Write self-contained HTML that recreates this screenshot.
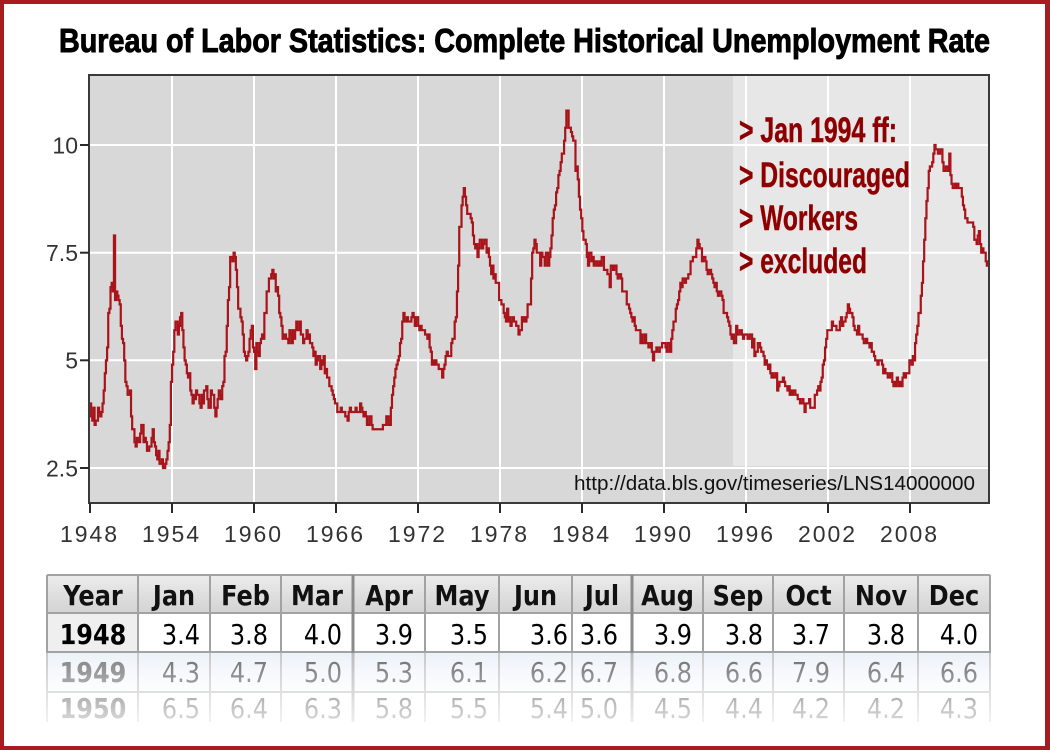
<!DOCTYPE html>
<html><head><meta charset="utf-8"><style>html,body{margin:0;padding:0;background:#fff}svg{display:block}</style></head>
<body>
<svg width="1050" height="750" viewBox="0 0 1050 750" xmlns="http://www.w3.org/2000/svg">
<defs>
<linearGradient id="hdr" x1="0" y1="0" x2="0" y2="1"><stop offset="0" stop-color="#ececec"/><stop offset="1" stop-color="#d3d3d3"/></linearGradient>
<linearGradient id="blu" x1="0" y1="0" x2="0" y2="1"><stop offset="0" stop-color="#dde8f4"/><stop offset="1" stop-color="#f7fafd"/></linearGradient>
<linearGradient id="fade" x1="0" y1="0" x2="0" y2="1"><stop offset="0" stop-color="#fff" stop-opacity="0.42"/><stop offset="1" stop-color="#fff" stop-opacity="0.86"/></linearGradient>
</defs>
<rect width="1050" height="750" fill="#fff"/>

<!-- Title -->
<text x="59" y="52" font-family="Liberation Sans, Arial, sans-serif" font-weight="bold" font-size="33" fill="#000" stroke="#000" stroke-width="0.9" textLength="931" lengthAdjust="spacingAndGlyphs">Bureau of Labor Statistics: Complete Historical Unemployment Rate</text>

<!-- Plot background -->
<rect x="89" y="75" width="900" height="428" fill="#d8d8d8"/>
<rect x="733" y="75" width="256" height="391" fill="#e7e7e7"/>

<!-- gridlines -->
<g stroke="#fff" stroke-width="2">
<line x1="172" y1="75" x2="172" y2="503"/>
<line x1="254" y1="75" x2="254" y2="503"/>
<line x1="336" y1="75" x2="336" y2="503"/>
<line x1="418" y1="75" x2="418" y2="503"/>
<line x1="500" y1="75" x2="500" y2="503"/>
<line x1="582" y1="75" x2="582" y2="503"/>
<line x1="664" y1="75" x2="664" y2="503"/>
<line x1="746" y1="75" x2="746" y2="503"/>
<line x1="828" y1="75" x2="828" y2="503"/>
<line x1="910" y1="75" x2="910" y2="503"/>
<line x1="89" y1="145" x2="989" y2="145"/>
<line x1="89" y1="252.7" x2="989" y2="252.7"/>
<line x1="89" y1="360.3" x2="989" y2="360.3"/>
<line x1="89" y1="468" x2="989" y2="468"/>
</g>

<!-- annotation -->
<g font-family="Liberation Sans, Arial, sans-serif" font-weight="bold" font-size="35" fill="#8e0000" stroke="#8e0000" stroke-width="0.5">
<text x="739" y="142" textLength="158" lengthAdjust="spacingAndGlyphs">&gt; Jan 1994 ff:</text>
<text x="739" y="187" textLength="171" lengthAdjust="spacingAndGlyphs">&gt; Discouraged</text>
<text x="739" y="230" textLength="119" lengthAdjust="spacingAndGlyphs">&gt; Workers</text>
<text x="739" y="273" textLength="128" lengthAdjust="spacingAndGlyphs">&gt; excluded</text>
</g>

<!-- URL -->
<text x="574" y="490" font-family="Liberation Sans, Arial, sans-serif" font-size="20" fill="#111" textLength="401" lengthAdjust="spacingAndGlyphs">http://data.bls.gov/timeseries/LNS14000000</text>

<!-- data line -->
<g transform="translate(90,575.7) scale(1.1396,-43.07)">
<path fill="none" stroke="#a8141a" stroke-width="2.2" vector-effect="non-scaling-stroke" stroke-linejoin="miter" d="M0 4.0h1V3.7h1V3.6h1V3.9h1V3.5h1V3.6h1V3.6h1V3.9h1V3.8h1V3.7h1V3.8h1V4.0
h1V4.3h1V4.7h1V5.0h1V5.3h1V6.1h1V6.2h1V6.7h1V6.8h1V6.6h1V7.9h1V6.4h1V6.6
h1V6.5h1V6.4h1V6.3h1V5.8h1V5.5h1V5.4h1V5.0h1V4.5h1V4.4h1V4.2h1V4.2h1V4.3
h1V3.7h1V3.4h1V3.4h1V3.1h1V3.0h1V3.2h1V3.1h1V3.1h1V3.3h1V3.5h1V3.5h1V3.1
h1V3.2h1V3.1h1V2.9h1V2.9h1V3.0h1V3.0h1V3.2h1V3.4h1V3.1h1V3.0h1V2.8h1V2.7
h1V2.9h1V2.6h1V2.6h1V2.7h1V2.5h1V2.5h1V2.6h1V2.7h1V2.9h1V3.1h1V3.5h1V4.5
h1V4.9h1V5.2h1V5.7h1V5.9h1V5.9h1V5.6h1V5.8h1V6.0h1V6.1h1V5.7h1V5.3h1V5.0
h1V4.9h1V4.7h1V4.6h1V4.7h1V4.3h1V4.2h1V4.0h1V4.2h1V4.1h1V4.3h1V4.2h1V4.2
h1V4.0h1V3.9h1V4.2h1V4.0h1V4.3h1V4.3h1V4.4h1V4.1h1V3.9h1V3.9h1V4.3h1V4.2
h1V4.2h1V3.9h1V3.7h1V3.9h1V4.1h1V4.3h1V4.2h1V4.1h1V4.4h1V4.5h1V5.1h1V5.2
h1V5.8h1V6.4h1V6.7h1V7.4h1V7.4h1V7.3h1V7.5h1V7.4h1V7.1h1V6.7h1V6.2h1V6.2
h1V6.0h1V5.9h1V5.6h1V5.2h1V5.1h1V5.0h1V5.1h1V5.2h1V5.5h1V5.7h1V5.8h1V5.3
h1V5.2h1V4.8h1V5.4h1V5.2h1V5.1h1V5.4h1V5.5h1V5.6h1V5.5h1V6.1h1V6.1h1V6.6
h1V6.6h1V6.9h1V6.9h1V7.0h1V7.1h1V6.9h1V7.0h1V6.6h1V6.7h1V6.5h1V6.1h1V6.0
h1V5.8h1V5.5h1V5.6h1V5.6h1V5.5h1V5.5h1V5.4h1V5.7h1V5.6h1V5.4h1V5.7h1V5.5
h1V5.7h1V5.9h1V5.7h1V5.7h1V5.9h1V5.6h1V5.6h1V5.4h1V5.5h1V5.5h1V5.7h1V5.5
h1V5.6h1V5.4h1V5.4h1V5.3h1V5.1h1V5.2h1V4.9h1V5.0h1V5.1h1V5.1h1V4.8h1V5.0
h1V4.9h1V5.1h1V4.7h1V4.8h1V4.6h1V4.6h1V4.4h1V4.4h1V4.3h1V4.2h1V4.1h1V4.0
h1V4.0h1V3.8h1V3.8h1V3.8h1V3.9h1V3.8h1V3.8h1V3.8h1V3.7h1V3.7h1V3.6h1V3.8
h1V3.9h1V3.8h1V3.8h1V3.8h1V3.8h1V3.9h1V3.8h1V3.8h1V3.8h1V4.0h1V3.9h1V3.8
h1V3.7h1V3.8h1V3.7h1V3.5h1V3.5h1V3.7h1V3.7h1V3.5h1V3.4h1V3.4h1V3.4h1V3.4
h1V3.4h1V3.4h1V3.4h1V3.4h1V3.4h1V3.5h1V3.5h1V3.5h1V3.7h1V3.7h1V3.5h1V3.5
h1V3.9h1V4.2h1V4.4h1V4.6h1V4.8h1V4.9h1V5.0h1V5.1h1V5.4h1V5.5h1V5.9h1V6.1
h1V5.9h1V5.9h1V6.0h1V5.9h1V5.9h1V5.9h1V6.0h1V6.1h1V6.0h1V5.8h1V6.0h1V6.0
h1V5.8h1V5.7h1V5.8h1V5.7h1V5.7h1V5.7h1V5.6h1V5.6h1V5.5h1V5.6h1V5.3h1V5.2
h1V4.9h1V5.0h1V4.9h1V5.0h1V4.9h1V4.9h1V4.8h1V4.8h1V4.8h1V4.6h1V4.8h1V4.9
h1V5.1h1V5.2h1V5.1h1V5.1h1V5.1h1V5.4h1V5.5h1V5.5h1V5.9h1V6.0h1V6.6h1V7.2
h1V8.1h1V8.1h1V8.6h1V8.8h1V9.0h1V8.8h1V8.6h1V8.4h1V8.4h1V8.4h1V8.3h1V8.2
h1V7.9h1V7.7h1V7.6h1V7.7h1V7.4h1V7.6h1V7.8h1V7.8h1V7.6h1V7.7h1V7.8h1V7.8
h1V7.5h1V7.6h1V7.4h1V7.2h1V7.0h1V7.2h1V6.9h1V7.0h1V6.8h1V6.8h1V6.8h1V6.4
h1V6.4h1V6.3h1V6.3h1V6.1h1V6.0h1V5.9h1V6.2h1V5.9h1V6.0h1V5.8h1V5.9h1V6.0
h1V5.9h1V5.9h1V5.8h1V5.8h1V5.6h1V5.7h1V5.7h1V6.0h1V5.9h1V6.0h1V5.9h1V6.0
h1V6.3h1V6.3h1V6.3h1V6.9h1V7.5h1V7.6h1V7.8h1V7.7h1V7.5h1V7.5h1V7.5h1V7.2
h1V7.5h1V7.4h1V7.4h1V7.2h1V7.5h1V7.5h1V7.2h1V7.4h1V7.6h1V7.9h1V8.3h1V8.5
h1V8.6h1V8.9h1V9.0h1V9.3h1V9.4h1V9.6h1V9.8h1V9.8h1V10.1h1V10.4h1V10.8h1V10.8
h1V10.4h1V10.4h1V10.3h1V10.2h1V10.1h1V10.1h1V9.4h1V9.5h1V9.2h1V8.8h1V8.5h1V8.3
h1V8.0h1V7.8h1V7.8h1V7.7h1V7.4h1V7.2h1V7.5h1V7.5h1V7.3h1V7.4h1V7.2h1V7.3
h1V7.3h1V7.2h1V7.2h1V7.3h1V7.2h1V7.4h1V7.4h1V7.1h1V7.1h1V7.1h1V7.0h1V7.0
h1V6.7h1V7.2h1V7.2h1V7.1h1V7.2h1V7.2h1V7.0h1V6.9h1V7.0h1V7.0h1V6.9h1V6.6
h1V6.6h1V6.6h1V6.6h1V6.3h1V6.3h1V6.2h1V6.1h1V6.0h1V5.9h1V6.0h1V5.8h1V5.7
h1V5.7h1V5.7h1V5.7h1V5.4h1V5.6h1V5.4h1V5.4h1V5.6h1V5.4h1V5.4h1V5.3h1V5.3
h1V5.4h1V5.2h1V5.0h1V5.2h1V5.2h1V5.3h1V5.2h1V5.2h1V5.3h1V5.3h1V5.4h1V5.4
h1V5.4h1V5.3h1V5.2h1V5.4h1V5.4h1V5.2h1V5.5h1V5.7h1V5.9h1V5.9h1V6.2h1V6.3
h1V6.4h1V6.6h1V6.8h1V6.7h1V6.9h1V6.9h1V6.8h1V6.9h1V6.9h1V7.0h1V7.0h1V7.3
h1V7.3h1V7.4h1V7.4h1V7.4h1V7.6h1V7.8h1V7.7h1V7.6h1V7.6h1V7.3h1V7.4h1V7.4
h1V7.3h1V7.1h1V7.0h1V7.1h1V7.1h1V7.0h1V6.9h1V6.8h1V6.7h1V6.8h1V6.6h1V6.5
h1V6.6h1V6.6h1V6.5h1V6.4h1V6.1h1V6.1h1V6.1h1V6.0h1V5.9h1V5.8h1V5.6h1V5.5
h1V5.6h1V5.4h1V5.4h1V5.8h1V5.6h1V5.6h1V5.7h1V5.7h1V5.6h1V5.5h1V5.6h1V5.6
h1V5.6h1V5.5h1V5.5h1V5.6h1V5.6h1V5.3h1V5.5h1V5.1h1V5.2h1V5.2h1V5.4h1V5.4
h1V5.3h1V5.2h1V5.2h1V5.1h1V4.9h1V5.0h1V4.9h1V4.8h1V4.9h1V4.7h1V4.6h1V4.7
h1V4.6h1V4.6h1V4.7h1V4.3h1V4.4h1V4.5h1V4.5h1V4.5h1V4.6h1V4.5h1V4.4h1V4.4
h1V4.3h1V4.4h1V4.2h1V4.3h1V4.2h1V4.3h1V4.3h1V4.2h1V4.2h1V4.1h1V4.1h1V4.0
h1V4.0h1V4.1h1V4.0h1V3.8h1V4.0h1V4.0h1V4.0h1V4.1h1V3.9h1V3.9h1V3.9h1V3.9
h1V4.2h1V4.2h1V4.3h1V4.4h1V4.3h1V4.5h1V4.6h1V4.9h1V5.0h1V5.3h1V5.5h1V5.7
h1V5.7h1V5.7h1V5.7h1V5.9h1V5.8h1V5.8h1V5.8h1V5.7h1V5.7h1V5.7h1V5.9h1V6.0
h1V5.8h1V5.9h1V5.9h1V6.0h1V6.1h1V6.3h1V6.2h1V6.1h1V6.1h1V6.0h1V5.8h1V5.7
h1V5.7h1V5.6h1V5.8h1V5.6h1V5.6h1V5.6h1V5.5h1V5.4h1V5.4h1V5.5h1V5.4h1V5.4
h1V5.3h1V5.4h1V5.2h1V5.2h1V5.1h1V5.0h1V5.0h1V4.9h1V5.0h1V5.0h1V5.0h1V4.9
h1V4.7h1V4.8h1V4.7h1V4.7h1V4.6h1V4.6h1V4.7h1V4.7h1V4.5h1V4.4h1V4.5h1V4.4
h1V4.6h1V4.5h1V4.4h1V4.5h1V4.4h1V4.6h1V4.7h1V4.6h1V4.7h1V4.7h1V4.7h1V5.0
h1V5.0h1V4.9h1V5.1h1V5.0h1V5.4h1V5.6h1V5.8h1V6.1h1V6.1h1V6.5h1V6.8h1V7.3
h1V7.8h1V8.3h1V8.7h1V9.0h1V9.4h1V9.5h1V9.5h1V9.6h1V9.8h1V10.0h1V9.9h1V9.9
h1V9.8h1V9.8h1V9.9h1V9.9h1V9.6h1V9.4h1V9.4h1V9.5h1V9.5h1V9.4h1V9.8h1V9.3
h1V9.1h1V9.0h1V9.0h1V9.1h1V9.0h1V9.1h1V9.0h1V9.0h1V9.0h1V8.8h1V8.6h1V8.5
h1V8.3h1V8.3h1V8.2h1V8.2h1V8.2h1V8.2h1V8.2h1V8.1h1V7.8h1V7.8h1V7.7h1V7.9
h1V8.0h1V7.7h1V7.5h1V7.6h1V7.5h1V7.5h1V7.3h1V7.2h1V7.2"/>
</g>

<!-- frame -->
<rect x="89" y="75" width="900" height="428" fill="none" stroke="#3a3a3a" stroke-width="2"/>

<!-- ticks -->
<g stroke="#2a2a2a" stroke-width="2">
<line x1="90" y1="503" x2="90" y2="513"/>
<line x1="172" y1="503" x2="172" y2="513"/>
<line x1="254" y1="503" x2="254" y2="513"/>
<line x1="336" y1="503" x2="336" y2="513"/>
<line x1="418" y1="503" x2="418" y2="513"/>
<line x1="500" y1="503" x2="500" y2="513"/>
<line x1="582" y1="503" x2="582" y2="513"/>
<line x1="664" y1="503" x2="664" y2="513"/>
<line x1="746" y1="503" x2="746" y2="513"/>
<line x1="828" y1="503" x2="828" y2="513"/>
<line x1="910" y1="503" x2="910" y2="513"/>
<line x1="80" y1="145" x2="89" y2="145"/>
<line x1="80" y1="252.7" x2="89" y2="252.7"/>
<line x1="80" y1="360.3" x2="89" y2="360.3"/>
<line x1="80" y1="468" x2="89" y2="468"/>
</g>

<!-- axis labels -->
<g font-family="Liberation Sans, Arial, sans-serif" font-size="23" fill="#333" text-anchor="middle">
<text x="88.5" y="542" textLength="57" lengthAdjust="spacing">1948</text>
<text x="170.5" y="542" textLength="57" lengthAdjust="spacing">1954</text>
<text x="252.5" y="542" textLength="57" lengthAdjust="spacing">1960</text>
<text x="334.5" y="542" textLength="57" lengthAdjust="spacing">1966</text>
<text x="416.5" y="542" textLength="57" lengthAdjust="spacing">1972</text>
<text x="498.5" y="542" textLength="57" lengthAdjust="spacing">1978</text>
<text x="580.5" y="542" textLength="57" lengthAdjust="spacing">1984</text>
<text x="662.5" y="542" textLength="57" lengthAdjust="spacing">1990</text>
<text x="744.5" y="542" textLength="57" lengthAdjust="spacing">1996</text>
<text x="826.5" y="542" textLength="57" lengthAdjust="spacing">2002</text>
<text x="908.5" y="542" textLength="57" lengthAdjust="spacing">2008</text>
</g>
<g font-family="Liberation Sans, Arial, sans-serif" font-size="23" fill="#333" text-anchor="end">
<text x="78" y="153.5">10</text>
<text x="78" y="261">7.5</text>
<text x="78" y="368.5">5</text>
<text x="78" y="476.5">2.5</text>
</g>

<!-- Table -->
<rect x="47" y="575" width="943" height="38" fill="url(#hdr)"/>
<rect x="47" y="613" width="943" height="39" fill="#fff"/>
<rect x="47" y="613" width="91" height="39" fill="#efefef"/>
<rect x="47" y="652" width="943" height="40" fill="url(#blu)"/>
<rect x="47" y="692" width="943" height="32" fill="#fff"/>
<g stroke="#a2a2a2" stroke-width="2">
<line x1="47" y1="575" x2="990" y2="575"/>
<line x1="47" y1="613" x2="990" y2="613"/>
<line x1="47" y1="652" x2="990" y2="652"/>
<line x1="47" y1="692" x2="990" y2="692"/>
<line x1="47" y1="575" x2="47" y2="724"/>
<line x1="138" y1="575" x2="138" y2="724"/>
<line x1="210" y1="575" x2="210" y2="724"/>
<line x1="281" y1="575" x2="281" y2="724"/>
<line x1="425" y1="575" x2="425" y2="724"/>
<line x1="499" y1="575" x2="499" y2="724"/>
<line x1="572" y1="575" x2="572" y2="724"/>
<line x1="703" y1="575" x2="703" y2="724"/>
<line x1="773" y1="575" x2="773" y2="724"/>
<line x1="844" y1="575" x2="844" y2="724"/>
<line x1="918" y1="575" x2="918" y2="724"/>
<line x1="990" y1="575" x2="990" y2="724"/>
</g>
<g stroke="#8a8a8a" stroke-width="3">
<line x1="353" y1="575" x2="353" y2="724"/>
<line x1="632" y1="575" x2="632" y2="724"/>
</g>

<g font-family="DejaVu Sans, Verdana, sans-serif" font-size="24">
<g transform="translate(0,605) scale(1,1.14)" font-weight="bold" fill="#111" text-anchor="middle">
<text x="93" y="0">Year</text>
<text x="174" y="0">Jan</text>
<text x="245.5" y="0">Feb</text>
<text x="317" y="0">Mar</text>
<text x="389" y="0">Apr</text>
<text x="462" y="0">May</text>
<text x="535.5" y="0">Jun</text>
<text x="602" y="0">Jul</text>
<text x="667.5" y="0">Aug</text>
<text x="738" y="0">Sep</text>
<text x="808.5" y="0">Oct</text>
<text x="881" y="0">Nov</text>
<text x="954" y="0">Dec</text>
</g>
<g transform="translate(0,644) scale(1,1.16)" fill="#000">
<text x="93" y="0" font-weight="bold" text-anchor="middle">1948</text>
<g text-anchor="end">
<text x="200" y="0">3.4</text><text x="268" y="0">3.8</text><text x="342" y="0">4.0</text><text x="413" y="0">3.9</text><text x="488" y="0">3.5</text><text x="568" y="0">3.6</text><text x="618" y="0">3.6</text><text x="692" y="0">3.9</text><text x="763" y="0">3.8</text><text x="830" y="0">3.7</text><text x="905" y="0">3.8</text><text x="978" y="0">4.0</text>
</g></g>
<g transform="translate(0,682) scale(1,1.16)" fill="#000">
<text x="93" y="0" font-weight="bold" text-anchor="middle" fill="#222">1949</text>
<g text-anchor="end">
<text x="200" y="0">4.3</text><text x="268" y="0">4.7</text><text x="342" y="0">5.0</text><text x="413" y="0">5.3</text><text x="488" y="0">6.1</text><text x="568" y="0">6.2</text><text x="618" y="0">6.7</text><text x="692" y="0">6.8</text><text x="763" y="0">6.6</text><text x="830" y="0">7.9</text><text x="905" y="0">6.4</text><text x="978" y="0">6.6</text>
</g></g>
<g transform="translate(0,718) scale(1,1.16)" fill="#000">
<text x="93" y="0" font-weight="bold" text-anchor="middle">1950</text>
<g text-anchor="end">
<text x="200" y="0">6.5</text><text x="268" y="0">6.4</text><text x="342" y="0">6.3</text><text x="413" y="0">5.8</text><text x="488" y="0">5.5</text><text x="568" y="0">5.4</text><text x="618" y="0">5.0</text><text x="692" y="0">4.5</text><text x="763" y="0">4.4</text><text x="830" y="0">4.2</text><text x="905" y="0">4.2</text><text x="978" y="0">4.3</text>
</g></g>
</g>
<rect x="40" y="653" width="960" height="70" fill="url(#fade)"/>
<rect x="4" y="722" width="1041" height="24" fill="#fff"/>

<!-- red border -->
<g fill="#a61c1f">
<rect x="0" y="0" width="1050" height="4"/>
<rect x="0" y="746" width="1050" height="4"/>
<rect x="0" y="0" width="4" height="750"/>
<rect x="1045" y="0" width="5" height="750"/>
</g>
</svg>
</body></html>
